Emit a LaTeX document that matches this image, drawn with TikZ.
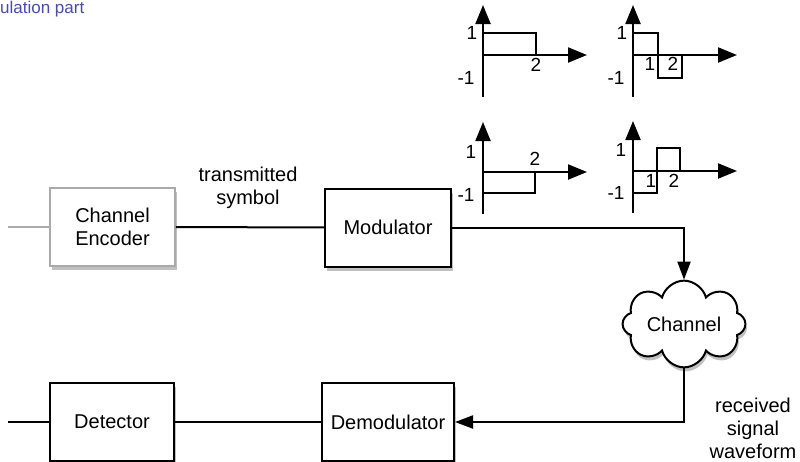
\documentclass[tikz,border=0pt]{standalone}
\usepackage{fontspec}
\setmainfont{Liberation Sans}
\usepackage{xcolor}
\usetikzlibrary{arrows.meta,positioning,shapes.symbols,shadows}
\definecolor{titlec}{RGB}{72,72,196}
\definecolor{edgec}{RGB}{170,170,170}
\newcommand{\lbl}{\fontsize{20}{23}\selectfont}
\newcommand{\plbl}{\fontsize{19}{21}\selectfont}
\tikzset{
  conn/.style={line width=2pt,black},
  ar/.style={-{Triangle[length=18pt,width=13pt]},line width=2pt,black},
  axis/.style={-{Triangle[length=19pt,width=15pt]},line width=2.2pt},
  pulse/.style={line width=2pt,line join=miter},
  shade/.style={drop shadow={shadow xshift=1.5pt,shadow yshift=-4pt,opacity=.45,fill=black!55}},
  blk/.style={draw,line width=2pt,fill=white,minimum width=126pt,minimum height=78pt,
    inner sep=2pt,font=\lbl,align=center,shade},
  plab/.style={font=\plbl,inner sep=0pt}
}
\begin{document}
\begin{tikzpicture}[x=1pt,y=-1pt]
\useasboundingbox (0,0) rectangle (800,461);
\node[font=\fontsize{17}{19}\selectfont,text=titlec,anchor=base west,inner sep=0pt] (title) at (0,13) {ulation part};

% blocks
\node[blk,draw=edgec,line width=1.5pt,minimum width=125pt] (enc) at (112.5,227) {Channel\\Encoder};
\node[blk] (mod) at (388,227.5) {Modulator};
\node[cloud,cloud puffs=8,aspect=2,draw,line width=2pt,fill=white,font=\lbl,
  minimum width=122pt,minimum height=66pt,shade] (chan) at (684,324) {Channel};
\node[blk,minimum width=124pt] (det) at (112,422) {Detector};
\node[blk,minimum width=132pt] (demod) at (388,422) {Demodulator};

% connectors
\coordinate (src) at (8,227);
\coordinate (snk) at (8,422);
\draw[edgec,line width=1.5pt] (src) -- (enc);
\draw[conn] (enc) -- (mod);
\draw[ar] (mod.east) -| (chan.north);
\draw[ar] (chan.south) |- (demod.east);
\draw[conn] (demod) -- (det);
\draw[conn] (det) -- (snk);

\node[font=\lbl,align=center] (txlbl) at (248,188) {transmitted\\symbol};
\node[font=\lbl,align=center] (rxlbl) at (753,428) {received\\signal\\waveform};

% signal waveforms
\foreach \ox/\oy in {483/55,633/55,483/172,633/171}{
  \draw[axis] (\ox,\oy+42) -- (\ox,\oy-50);
  \draw[axis] (\ox,\oy) -- (\ox+104,\oy);
}
\draw[pulse] (483,33) -- (536,33) -- (536,55);
\draw[pulse] (633,33) -- (658,33) -- (658,78) -- (682,78) -- (682,55);
\draw[pulse] (483,193) -- (535,193) -- (535,172);
\draw[pulse] (633,193) -- (657,193) -- (657,148) -- (680,148) -- (680,171);

\node[plab] (a1) at (472,33) {1};
\node[plab] (a2) at (466,78) {-1};
\node[plab] (a3) at (536,65) {2};
\node[plab] (b1) at (622,33) {1};
\node[plab] (b2) at (616,78) {-1};
\node[plab] (b3) at (650,64) {1};
\node[plab] (b4) at (673,64) {2};
\node[plab] (c1) at (471,152) {1};
\node[plab] (c2) at (466,195) {-1};
\node[plab] (c3) at (535,159) {2};
\node[plab] (d1) at (621,150) {1};
\node[plab] (d2) at (616,193) {-1};
\node[plab] (d3) at (651,181) {1};
\node[plab] (d4) at (674,181) {2};
\end{tikzpicture}
\end{document}
